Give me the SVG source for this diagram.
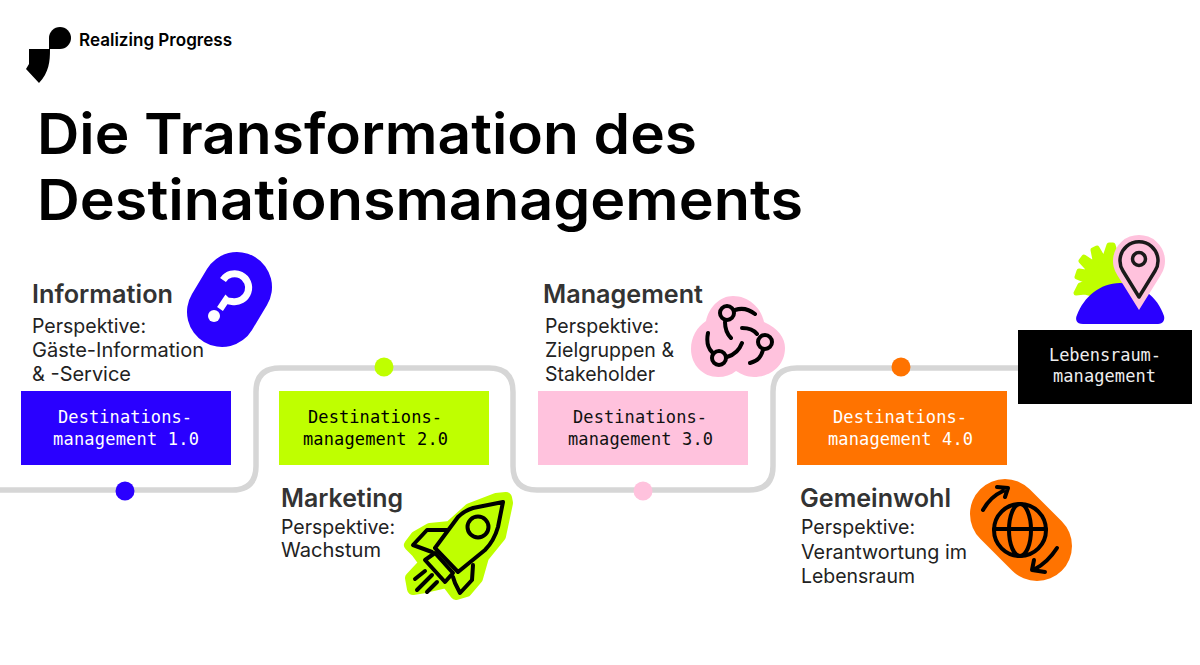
<svg xmlns="http://www.w3.org/2000/svg" width="1200" height="665" viewBox="0 0 1200 665">
<style>
.t{font-family:"Inter","Liberation Sans",sans-serif;fill:#000}
.title{font-size:56px;font-weight:600}
.h{font-size:25px;font-weight:600;fill:#333}
.p{font-size:20px;fill:#222}
.m{font-family:"DejaVu Sans Mono","Liberation Mono",monospace;font-size:17px}
.ic{fill:none;stroke:#000;stroke-width:4;stroke-linecap:round;stroke-linejoin:round}
</style>
<rect width="1200" height="665" fill="#fff"/>
<g id="logo">
<path d="M29 49H50C50 62 49 72 39 83L26 69L29 64Z" fill="#000"/>
<path d="M60 27A11 11 0 0 1 60 49H49V38A11 11 0 0 1 60 27Z" fill="#000"/>
<text class="t" x="79" y="46" font-size="17.5" font-weight="600" textLength="153" lengthAdjust="spacingAndGlyphs">Realizing Progress</text>
</g>
<g id="title">
<text class="t title" x="37" y="154" textLength="660" lengthAdjust="spacingAndGlyphs">Die Transformation des</text>
<text class="t title" x="37" y="220" textLength="766" lengthAdjust="spacingAndGlyphs">Destinationsmanagements</text>
</g>
<g id="connectors" fill="none" stroke="#d6d6d6" stroke-width="5.5">
<path d="M0 490H232Q256 490 256 466V392Q256 368 280 368H489Q513 368 513 392V466Q513 490 537 490H749Q773 490 773 466V392Q773 368 797 368H1020"/>
</g>
<g id="node1">
<circle cx="125" cy="491" r="9.5" fill="#2a00ff"/>
<rect x="21" y="391" width="210" height="74" fill="#2a00ff"/>
<text class="m" fill="#fff" x="58" y="423" textLength="134">Destinations-</text>
<text class="m" fill="#fff" x="53" y="445" textLength="146">management 1.0</text>
<text class="t h" x="32" y="303" textLength="141" lengthAdjust="spacingAndGlyphs">Information</text>
<text class="t p" x="32" y="333" textLength="114" lengthAdjust="spacingAndGlyphs">Perspektive:</text>
<text class="t p" x="32" y="357" textLength="172" lengthAdjust="spacingAndGlyphs">Gäste-Information</text>
<text class="t p" x="32" y="381" textLength="99" lengthAdjust="spacingAndGlyphs">&amp; -Service</text>
<g id="icon1">
<line x1="237" y1="287" x2="222" y2="312" stroke="#2a00ff" stroke-width="70" stroke-linecap="round"/>
<path d="M223 280A14 14 0 1 1 232 301.500Q227 301 226 300L220 309" fill="none" stroke="#fff" stroke-width="7"/>
<circle cx="214" cy="316" r="6" fill="#fff"/>
</g>
</g>
<g id="node2">
<circle cx="384" cy="367" r="9.500" fill="#bfff00"/>
<rect x="279" y="391" width="210" height="74" fill="#bfff00"/>
<text class="m" fill="#000" x="308" y="423" textLength="134">Destinations-</text>
<text class="m" fill="#000" x="303" y="445" textLength="145">management 2.0</text>
<text class="t h" x="281" y="507" textLength="122" lengthAdjust="spacingAndGlyphs">Marketing</text>
<text class="t p" x="281" y="534" textLength="114" lengthAdjust="spacingAndGlyphs">Perspektive:</text>
<text class="t p" x="281" y="557" textLength="100" lengthAdjust="spacingAndGlyphs">Wachstum</text>
<g id="icon2">
<path d="M496 499L506 498L507 503L500 536L483 557L477 578L466 591L456 594L447 582L425 587L413 589L411 578L425 563L417 552L410 545L416 537L430 529L450 527L470 509Z" fill="#bfff00" stroke="#bfff00" stroke-width="12" stroke-linejoin="round"/>
<path class="ic" d="M503 502L473 508C466 510 462 513 458 517L435 548L458 572L485 550C492 543 496 534 498 527Z"/>
<circle class="ic" cx="478" cy="527" r="10.500"/>
<path class="ic" d="M447 530H427L413 545L432 552"/>
<path class="ic" d="M473 565L472 580L460 593L455 583L453 577"/>
<path class="ic" d="M425 560L435 553L453 573L445 582Z"/>
<path class="ic" d="M415 579L425 571M417 590L432 575M427 592L437 582"/>
</g>
</g>
<g id="node3">
<circle cx="643" cy="491" r="9.500" fill="#ffc2dd"/>
<rect x="538" y="391" width="210" height="74" fill="#ffc2dd"/>
<text class="m" fill="#111" x="573" y="423" textLength="134">Destinations-</text>
<text class="m" fill="#111" x="568" y="445" textLength="145">management 3.0</text>
<text class="t h" x="543" y="303" textLength="160" lengthAdjust="spacingAndGlyphs">Management</text>
<text class="t p" x="545" y="333" textLength="114" lengthAdjust="spacingAndGlyphs">Perspektive:</text>
<text class="t p" x="545" y="357" textLength="129" lengthAdjust="spacingAndGlyphs">Zielgruppen &amp;</text>
<text class="t p" x="545" y="381" textLength="110" lengthAdjust="spacingAndGlyphs">Stakeholder</text>
<g id="icon3">
<path d="M733 296C748 296 761 307 764 322C778 328 785 338 785 348C785 366 770 377 754 377C747 377 741 374 736 371C731 375 725 377 718 377C703 377 691 365 691 349C691 337 697 327 706 321C709 307 720 296 733 296Z" fill="#ffc2dd"/>
<g class="ic" stroke="#1a1a1a">
<circle cx="727" cy="313" r="7"/><circle cx="765" cy="342" r="7"/><circle cx="719" cy="358" r="7"/>
<path d="M735 310C744 307 750 310 755 314M725 322C725 329 727 334 731 338M742 328C750 328 754 330 757 334M763 350C761 357 758 361 750 363M708 333C706 343 708 348 712 352M727 357C734 355 739 351 742 343"/>
</g>
</g>
</g>
<g id="node4">
<circle cx="901" cy="367" r="9.500" fill="#ff7300"/>
<rect x="797" y="391" width="210" height="74" fill="#ff7300"/>
<text class="m" fill="#fff" x="833" y="423" textLength="134">Destinations-</text>
<text class="m" fill="#fff" x="828" y="445" textLength="145">management 4.0</text>
<text class="t h" x="800" y="507" textLength="151" lengthAdjust="spacingAndGlyphs">Gemeinwohl</text>
<text class="t p" x="801" y="534" textLength="114" lengthAdjust="spacingAndGlyphs">Perspektive:</text>
<text class="t p" x="801" y="559" textLength="166" lengthAdjust="spacingAndGlyphs">Verantwortung im</text>
<text class="t p" x="801" y="583" textLength="114" lengthAdjust="spacingAndGlyphs">Lebensraum</text>
<g id="icon4">
<line x1="1005" y1="514" x2="1037" y2="546" stroke="#ff7300" stroke-width="70" stroke-linecap="round"/>
<g class="ic">
<circle cx="1020" cy="530" r="26"/>
<ellipse cx="1020" cy="530" rx="11" ry="26"/>
<path d="M994 529H1046"/>
<path d="M983 510Q990 497 1003 491M997 487L1008 488L1005 497"/>
<path d="M1057 548Q1048 562 1035 569M1045 572L1032 570L1034 560"/>
</g>
</g>
</g>
<g id="node5">
<rect x="1018" y="330" width="174" height="74" fill="#000"/>
<text class="m" fill="#eee" x="1049" y="361" textLength="112">Lebensraum-</text>
<text class="m" fill="#eee" x="1053" y="382" textLength="103">management</text>
<g id="icon5">
<path d="M1085 292L1076 293L1080 285L1089 282L1077 277L1079 271L1092 273L1081 261L1084 257L1096 265L1093 250L1097 248L1104 260L1109 245L1113 245L1118 262L1130 290L1100 296Z" fill="#bfff00" stroke="#bfff00" stroke-width="5" stroke-linejoin="round"/>
<path d="M1083 324C1076 324 1075 319 1077 315C1084 297 1100 283 1120 283C1140 283 1158 297 1164 316C1165 320 1163 324 1158 324Z" fill="#2a00ff"/>
<path d="M1139 310L1117.500 275.500A26 26 0 1 1 1160.500 275.500Z" fill="#ffc2dd"/>
<path d="M1139 297L1123 271A19 19 0 1 1 1155 271Z" fill="none" stroke="#1a1a1a" stroke-width="3.500" stroke-linejoin="round"/>
<circle cx="1139" cy="259" r="6.500" fill="none" stroke="#1a1a1a" stroke-width="3.500"/>
</g>
</g>
</svg>
